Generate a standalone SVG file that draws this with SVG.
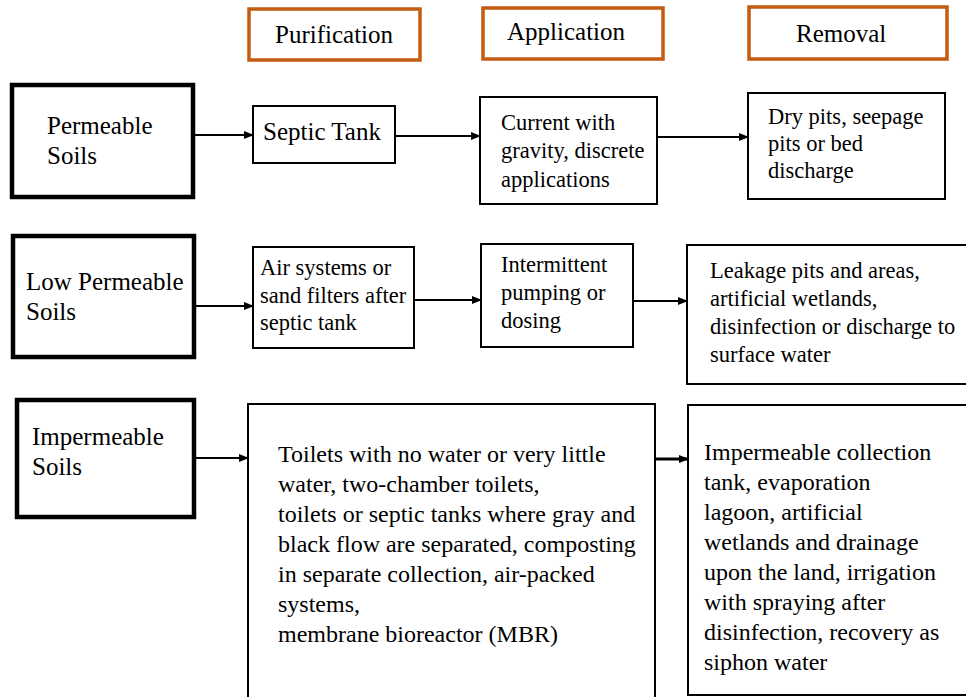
<svg xmlns="http://www.w3.org/2000/svg" width="966" height="697" viewBox="0 0 966 697" font-family="'Liberation Serif', 'DejaVu Serif', serif">
<style>
text{font-family:'Liberation Serif','DejaVu Serif',serif;fill:#000}
.hdr{fill:#fff;stroke:#C55A11;stroke-width:3.5}
.soil{fill:#fff;stroke:#000;stroke-width:4.5}
.box{fill:#fff;stroke:#000;stroke-width:2}
.t25{font-size:25px}
.t22{font-size:22.5px}
.t24{font-size:24px}
.c line{stroke:#000;stroke-width:2}
</style>
<defs>
<marker id="ah" markerWidth="10" markerHeight="10" refX="9" refY="5" orient="auto" markerUnits="userSpaceOnUse">
<path d="M0,1 L10,5 L0,9 Z" fill="#000"/>
</marker>
</defs>
<rect width="966" height="697" fill="#fff"/>

<g id="hdr-purification"><rect class="hdr" x="249" y="9" width="171" height="51"/><text class="t25" x="275" y="43">Purification</text></g>
<g id="hdr-application"><rect class="hdr" x="483" y="8" width="180" height="51"/><text class="t25" x="507" y="40">Application</text></g>
<g id="hdr-removal"><rect class="hdr" x="749" y="7" width="198" height="52"/><text class="t25" x="796" y="42">Removal</text></g>

<g id="permeable"><rect class="soil" x="12" y="85" width="181" height="112"/><text class="t25" x="47" y="134">Permeable</text><text class="t25" x="47" y="164">Soils</text></g>
<g id="septic"><rect class="box" x="253" y="106" width="142" height="57"/><text class="t25" x="263" y="140">Septic Tank</text></g>
<g id="current"><rect class="box" x="480" y="97" width="177" height="107"/><text class="t22" x="501" y="130">Current with</text><text class="t22" x="501" y="158">gravity, discrete</text><text class="t22" x="501" y="187">applications</text></g>
<g id="drypits"><rect class="box" x="748" y="93" width="197" height="106"/><text class="t22" x="768" y="124">Dry pits, seepage</text><text class="t22" x="768" y="151">pits or bed</text><text class="t22" x="768" y="178">discharge</text></g>

<g id="lowperm"><rect class="soil" x="13" y="236" width="181" height="121"/><text class="t25" x="26" y="290">Low Permeable</text><text class="t25" x="26" y="320">Soils</text></g>
<g id="air"><rect class="box" x="253" y="247" width="161" height="101"/><text class="t22" x="260" y="275">Air systems or</text><text class="t22" x="260" y="303">sand filters after</text><text class="t22" x="260" y="330">septic tank</text></g>
<g id="intermittent"><rect class="box" x="481" y="244" width="152" height="103"/><text class="t22" x="501" y="272">Intermittent</text><text class="t22" x="501" y="300">pumping or</text><text class="t22" x="501" y="328">dosing</text></g>
<g id="leakage"><rect class="box" x="687" y="245" width="300" height="139"/><text class="t22" x="710" y="278">Leakage pits and areas,</text><text class="t22" x="710" y="306">artificial wetlands,</text><text class="t22" x="710" y="334">disinfection or discharge to</text><text class="t22" x="710" y="362">surface water</text></g>

<g id="impermeable"><rect class="soil" x="17" y="400" width="177" height="117"/><text class="t25" x="32" y="445">Impermeable</text><text class="t25" x="32" y="475">Soils</text></g>
<g id="toilets"><rect class="box" x="248" y="404" width="407" height="320"/>
<text class="t24" x="278" y="462">Toilets with no water or very little</text>
<text class="t24" x="278" y="492">water, two-chamber toilets,</text>
<text class="t24" x="278" y="522">toilets or septic tanks where gray and</text>
<text class="t24" x="278" y="552">black flow are separated, composting</text>
<text class="t24" x="278" y="582">in separate collection, air-packed</text>
<text class="t24" x="278" y="612">systems,</text>
<text class="t24" x="278" y="642">membrane bioreactor (MBR)</text></g>
<g id="collection"><rect class="box" x="688" y="405" width="300" height="290"/>
<text class="t24" x="704" y="460">Impermeable collection</text>
<text class="t24" x="704" y="490">tank, evaporation</text>
<text class="t24" x="704" y="520">lagoon, artificial</text>
<text class="t24" x="704" y="550">wetlands and drainage</text>
<text class="t24" x="704" y="580">upon the land, irrigation</text>
<text class="t24" x="704" y="610">with spraying after</text>
<text class="t24" x="704" y="640">disinfection, recovery as</text>
<text class="t24" x="704" y="670">siphon water</text></g>

<g id="connectors" class="c">
<line x1="195" y1="135" x2="253" y2="135" marker-end="url(#ah)"/>
<line x1="396" y1="136" x2="480" y2="136" marker-end="url(#ah)"/>
<line x1="658" y1="137" x2="748" y2="137" marker-end="url(#ah)"/>
<line x1="196" y1="306" x2="253" y2="306" marker-end="url(#ah)"/>
<line x1="415" y1="300" x2="481" y2="300" marker-end="url(#ah)"/>
<line x1="634" y1="301" x2="687" y2="301" marker-end="url(#ah)"/>
<line x1="196" y1="458" x2="248" y2="458" marker-end="url(#ah)"/>
<line x1="656" y1="459" x2="688" y2="459" marker-end="url(#ah)" style="stroke-width:3"/>
</g>
</svg>
